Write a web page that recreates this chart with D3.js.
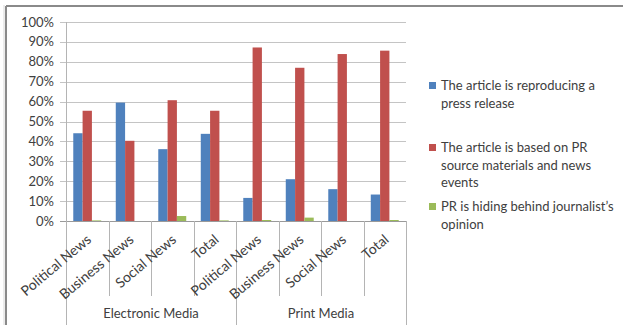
<!DOCTYPE html>
<html>
<head>
<meta charset="utf-8">
<script src="https://cdn.jsdelivr.net/npm/d3@7"></script>
<style>
  body { margin: 0; background: #fff; }
  svg { display: block; font-family: Lato, "Open Sans", sans-serif; }
</style>
</head>
<body>
<svg id="chart" width="623" height="325"></svg>
<script>
var categories = ["Political News", "Business News", "Social News", "Total",
                  "Political News", "Business News", "Social News", "Total"];
var groups = ["Electronic Media", "Print Media"];
var seriesNames = ["The article is reproducing a press release",
                   "The article is based on PR source materials and news events",
                   "PR is hiding behind journalist\u2019s opinion"];
var reproducing = [44.1, 59.5, 36.1, 43.8, 11.6, 21.0, 16.0, 13.3];
var basedOn = [55.4, 40.3, 60.7, 55.4, 87.2, 77.0, 83.9, 85.6];
var hiding = [0.3, 0, 2.5, 0.3, 0.5, 1.7, 0, 0.5];
var yTicks = [0, 10, 20, 30, 40, 50, 60, 70, 80, 90, 100];
var legendLines = [["The article is reproducing a", "press release"],
                   ["The article is based on PR", "source materials and news", "events"],
                   ["PR is hiding behind journalist\u2019s", "opinion"]];
var colors = ["#4f81bd", "#c0504d", "#9bbb59"];

var svg = d3.select("#chart");

// frame
svg.append("line").attr("x1", 6).attr("x2", 623).attr("y1", 6).attr("y2", 6)
    .attr("stroke", "#8a8a8a").attr("stroke-width", 2);
svg.append("line").attr("x1", 6).attr("x2", 6).attr("y1", 6).attr("y2", 325)
    .attr("stroke", "#8a8a8a").attr("stroke-width", 2);
svg.append("line").attr("x1", 4).attr("x2", 4).attr("y1", 5).attr("y2", 325)
    .attr("stroke", "#d8d8d8").attr("stroke-width", 1);

var plotLeft = 66, plotRight = 406, plotTop = 22, plotBottom = 221;

var x = d3.scaleBand().domain(d3.range(categories.length)).range([plotLeft, plotRight]).paddingInner(0).paddingOuter(0);
var xs = d3.scaleBand().domain([0, 1, 2]).range([0, x.bandwidth()]).paddingOuter(0.78).paddingInner(0);
var y = d3.scaleLinear().domain([0, 100]).range([plotBottom, plotTop]);

// gridlines + y labels
svg.selectAll(".grid").data(yTicks).enter().append("line")
    .attr("x1", plotLeft - 6).attr("x2", plotRight)
    .attr("y1", function(d) { return Math.round(y(d)) + 0.5; })
    .attr("y2", function(d) { return Math.round(y(d)) + 0.5; })
    .attr("stroke", function(d) { return d === 0 ? "#9a9a9a" : "#c4c4c4"; });

svg.selectAll(".ylab").data(yTicks).enter().append("text")
    .attr("x", 54).attr("y", function(d) { return y(d) + 4.5; })
    .attr("text-anchor", "end").attr("font-size", 13).attr("fill", "#404040")
    .text(function(d) { return d + "%"; });

// y axis and outer group lines
svg.append("line").attr("x1", plotLeft + 0.5).attr("x2", plotLeft + 0.5).attr("y1", plotTop).attr("y2", 325)
    .attr("stroke", "#b4b4b4");
svg.append("line").attr("x1", plotRight + 0.5).attr("x2", plotRight + 0.5).attr("y1", plotBottom).attr("y2", 325)
    .attr("stroke", "#b4b4b4");

// category separators
svg.selectAll(".sep").data(d3.range(1, categories.length)).enter().append("line")
    .attr("x1", function(i) { return Math.round(x(i)) + 0.5; })
    .attr("x2", function(i) { return Math.round(x(i)) + 0.5; })
    .attr("y1", plotBottom)
    .attr("y2", function(i) { return i === 4 ? 325 : 296; })
    .attr("stroke", "#b4b4b4");

// bars
var series = [reproducing, basedOn, hiding];
series.forEach(function(vals, s) {
    svg.selectAll(".bar" + s).data(vals).enter().append("rect")
        .attr("x", function(d, i) { return x(i) + xs(s); })
        .attr("y", function(d) { return y(d); })
        .attr("width", xs.bandwidth())
        .attr("height", function(d) { return plotBottom - y(d); })
        .attr("fill", colors[s]);
});

// category labels
svg.selectAll(".xlab").data(categories).enter().append("text")
    .attr("transform", function(d, i) {
        return "translate(" + (x(i) + x.bandwidth() / 2 + 5) + ",241) rotate(-40)";
    })
    .attr("text-anchor", "end").attr("font-size", 14).attr("fill", "#404040")
    .text(function(d) { return d; });

// group labels
svg.selectAll(".glab").data(groups).enter().append("text")
    .attr("x", function(d, i) { return x(i * 4) + x.bandwidth() * 2; })
    .attr("y", 318)
    .attr("text-anchor", "middle").attr("font-size", 13).attr("fill", "#404040")
    .text(function(d) { return d; });

// legend
var legendY = [90, 152, 211];
legendLines.forEach(function(lines, s) {
    svg.append("rect").attr("x", 429).attr("y", legendY[s] - 8)
        .attr("width", 7).attr("height", 7).attr("fill", colors[s]);
    var t = svg.append("text").attr("x", 441).attr("y", legendY[s])
        .attr("font-size", 13).attr("fill", "#404040");
    lines.forEach(function(line, k) {
        t.append("tspan").attr("x", 441).attr("dy", k === 0 ? 0 : 17.5).text(line);
    });
});
</script>
</body>
</html>
